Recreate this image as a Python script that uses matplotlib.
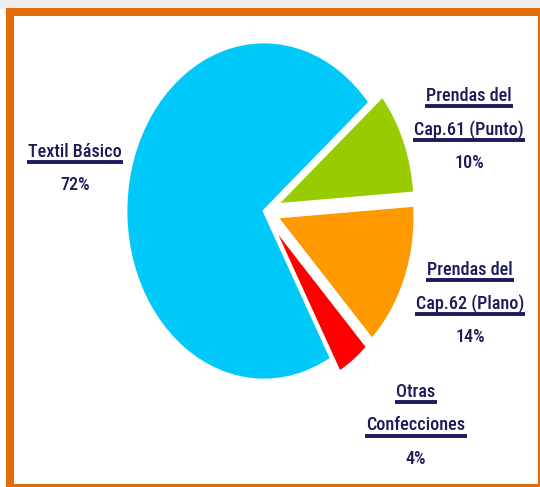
import matplotlib
matplotlib.use("Agg")
import matplotlib.pyplot as plt
from matplotlib import font_manager as fm
from matplotlib.patches import Rectangle
from matplotlib.lines import Line2D

# datos del grafico
categorias = ["Textil Básico", "Prendas del Cap.61 (Punto)",
              "Prendas del Cap.62 (Plano)", "Otras Confecciones"]
etiquetas = [["Textil Básico"],
             ["Prendas del", "Cap.61 (Punto)"],
             ["Prendas del", "Cap.62 (Plano)"],
             ["Otras", "Confecciones"]]
valores = [72, 10, 14, 4]
colores = ["#00C8F8", "#99CC00", "#FF9900", "#FF0000"]
separacion = [0.0, 0.1, 0.1, 0.1]

W, H = 540, 487
AZUL = "#1B1A5A"


def fx(px):
    return px / W


def fy(py):
    return 1 - py / H


# buscar una fuente estrecha
candidatas = [("Liberation Sans Narrow", "normal"), ("Roboto Condensed", "normal"),
              ("Noto Sans Condensed", "normal"), ("Open Sans Condensed", "normal"),
              ("DejaVu Sans Condensed", "normal"), ("DejaVu Sans", "condensed"),
              ("Noto Sans", "condensed"), ("Roboto", "condensed")]
fuente = ("Liberation Sans", "normal")
for fam, st in candidatas:
    try:
        f = fm.findfont(fm.FontProperties(family=fam, stretch=st), fallback_to_default=False)
    except ValueError:
        continue
    if st == "normal" or "ondensed" in f:
        fuente = (fam, st)
        break

fig = plt.figure(figsize=(W / 100, H / 100), dpi=100)
fig.patch.set_facecolor("white")

# franja gris superior y marco naranja
fig.add_artist(Rectangle((0, fy(8.5)), 1, 8.5 / H, transform=fig.transFigure,
                         facecolor="#EDEDED", edgecolor="none", zorder=0))
for (x0, y0, x1, y1) in [(6, 8.5, 540, 16), (6, 8.5, 14, 487),
                         (537.5, 8.5, 540, 487), (6, 483.5, 540, 487)]:
    fig.add_artist(Rectangle((fx(x0), fy(y1)), fx(x1) - fx(x0), fy(y0) - fy(y1),
                             transform=fig.transFigure, facecolor="#E36C0A",
                             edgecolor="none", zorder=5))

# torta (eliptica, como en la imagen original)
cx, cy, rx, ry = 264, 211, 138, 169
lim = 1.25
ax = fig.add_axes([fx(cx - rx * lim), fy(cy + ry * lim), 2 * rx * lim / W, 2 * ry * lim / H])
orden = [1, 2, 3, 0]
ax.pie([valores[i] for i in orden], colors=[colores[i] for i in orden],
       explode=[separacion[i] for i in orden], startangle=40, counterclock=False,
       wedgeprops=dict(edgecolor="white", linewidth=2))
ax.set_aspect("auto")
ax.set_xlim(-lim, lim)
ax.set_ylim(-lim, lim)
ax.axis("off")

# ajustar el tamano para que "Cap.61 (Punto)" mida ~110 px
PESO = "medium"
fig.canvas.draw()
rend = fig.canvas.get_renderer()
prueba = fig.text(0, 0, "Cap.61 (Punto)", fontsize=16, family=fuente[0],
                  fontstretch=fuente[1], weight=PESO)
ancho = prueba.get_window_extent(rend).width
prueba.remove()
tam = min(18.0, 16 * 110 / ancho)

# etiquetas: centro x, linea base de la primera fila (px)
pos_etiquetas = [(75, 157), (469, 101), (470, 275), (416, 397)]
paso = 33.5

for lineas, v, (x, y) in zip(etiquetas, valores, pos_etiquetas):
    for k, txt in enumerate(lineas + [f"{v}%"]):
        yb = y + k * paso
        t = fig.text(fx(x), fy(yb), txt, ha="center", va="baseline", fontsize=tam,
                     color=AZUL, family=fuente[0], fontstretch=fuente[1], weight=PESO)
        if k < len(lineas):
            bb = t.get_window_extent(rend)
            fig.add_artist(Line2D([(bb.x0 - 1) / W, (bb.x1 + 1) / W],
                                  [fy(yb + 5), fy(yb + 5)], transform=fig.transFigure,
                                  color=AZUL, linewidth=2.8, solid_capstyle="butt"))

fig.savefig("out.png", dpi=100)
